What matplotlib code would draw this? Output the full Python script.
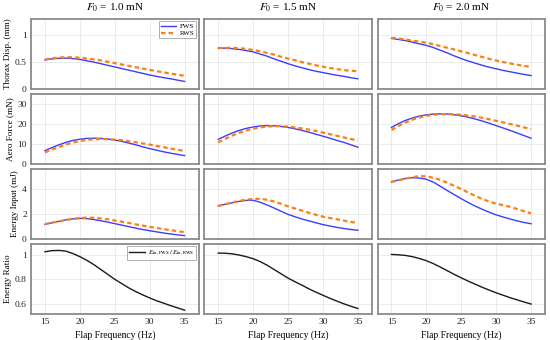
import matplotlib
matplotlib.use("Agg")
import matplotlib.pyplot as plt
from matplotlib.ticker import FuncFormatter

plt.rcParams['font.family'] = ['Liberation Serif', 'DejaVu Serif']
plt.rcParams['mathtext.fontset'] = 'stix'

freq = list(range(15, 36))
forces = ["1.0", "1.5", "2.0"]

# Thorax displacement (mm)
disp_fws = [
    [.54, .56, .57, .575, .565, .55, .525, .50, .47, .44, .41, .38, .35, .32, .29, .26, .235, .21, .19, .165, .14],
    [.76, .76, .75, .735, .715, .69, .65, .61, .56, .515, .47, .43, .395, .36, .33, .305, .28, .255, .235, .21, .19],
    [.94, .92, .90, .87, .84, .81, .77, .72, .67, .615, .565, .52, .48, .44, .405, .375, .345, .32, .295, .27, .25],
]
disp_rws = [
    [.55, .57, .585, .59, .59, .58, .565, .55, .53, .505, .48, .455, .43, .405, .38, .355, .33, .31, .285, .265, .245],
    [.76, .765, .765, .76, .745, .725, .70, .67, .64, .60, .565, .535, .50, .47, .44, .415, .39, .37, .35, .34, .33],
    [.95, .94, .92, .90, .88, .86, .83, .80, .765, .735, .70, .665, .63, .595, .56, .53, .50, .475, .45, .43, .41],
]
# Aero force (mN)
force_fws = [
    [6.7, 8.2, 9.6, 10.8, 11.8, 12.4, 12.8, 12.9, 12.8, 12.5, 12.0, 11.3, 10.5, 9.6, 8.6, 7.7, 6.9, 6.1, 5.4, 4.8, 4.2],
    [12.3, 14.0, 15.5, 16.8, 17.8, 18.5, 19.0, 19.2, 19.1, 18.8, 18.3, 17.6, 16.8, 15.9, 14.9, 13.9, 12.9, 11.8, 10.8, 9.6, 8.4],
    [18.3, 20.2, 21.8, 23.0, 24.0, 24.6, 25.0, 25.1, 25.0, 24.6, 24.1, 23.4, 22.5, 21.5, 20.4, 19.2, 18.0, 16.8, 15.5, 14.2, 12.9],
]
force_rws = [
    [5.8, 7.2, 8.5, 9.7, 10.7, 11.5, 12.0, 12.4, 12.5, 12.4, 12.2, 11.9, 11.4, 10.9, 10.3, 9.7, 9.0, 8.4, 7.7, 7.1, 6.5],
    [10.8, 12.6, 14.2, 15.6, 16.7, 17.6, 18.3, 18.7, 18.9, 18.9, 18.7, 18.3, 17.8, 17.2, 16.5, 15.7, 14.9, 14.1, 13.3, 12.5, 11.7],
    [17.0, 19.0, 20.8, 22.2, 23.3, 24.1, 24.6, 24.9, 25.0, 24.9, 24.6, 24.2, 23.7, 23.1, 22.4, 21.6, 20.8, 20.0, 19.2, 18.3, 17.5],
]
# Energy input (mJ)
energy_fws = [
    [1.17, 1.30, 1.42, 1.53, 1.61, 1.65, 1.63, 1.56, 1.46, 1.35, 1.23, 1.11, 0.99, 0.87, 0.76, 0.66, 0.57, 0.48, 0.40, 0.33, 0.27],
    [2.65, 2.78, 2.90, 3.01, 3.09, 3.10, 2.95, 2.72, 2.48, 2.22, 1.97, 1.78, 1.60, 1.45, 1.30, 1.15, 1.04, 0.93, 0.84, 0.76, 0.70],
    [4.57, 4.72, 4.84, 4.90, 4.88, 4.78, 4.55, 4.22, 3.88, 3.55, 3.22, 2.92, 2.63, 2.38, 2.14, 1.93, 1.76, 1.60, 1.45, 1.32, 1.22],
]
energy_rws = [
    [1.20, 1.30, 1.41, 1.52, 1.61, 1.68, 1.71, 1.70, 1.65, 1.57, 1.48, 1.38, 1.28, 1.17, 1.07, 0.97, 0.88, 0.79, 0.71, 0.62, 0.55],
    [2.65, 2.78, 2.92, 3.05, 3.15, 3.20, 3.22, 3.14, 3.00, 2.82, 2.62, 2.44, 2.27, 2.10, 1.94, 1.79, 1.68, 1.58, 1.47, 1.37, 1.27],
    [4.57, 4.70, 4.83, 4.95, 5.03, 5.02, 4.90, 4.73, 4.50, 4.25, 4.00, 3.72, 3.45, 3.20, 3.00, 2.83, 2.70, 2.57, 2.40, 2.22, 2.05],
]
# Energy ratio
ratio = [
    [1.025, 1.034, 1.036, 1.03, 1.01, 0.985, 0.955, 0.92, 0.88, 0.84, 0.80, 0.765, 0.73, 0.70, 0.673, 0.648, 0.625, 0.605, 0.585, 0.567, 0.548],
    [1.014, 1.013, 1.008, 0.998, 0.985, 0.968, 0.945, 0.915, 0.88, 0.845, 0.81, 0.78, 0.752, 0.722, 0.695, 0.67, 0.645, 0.622, 0.60, 0.58, 0.562],
    [1.003, 1.0, 0.995, 0.985, 0.97, 0.952, 0.928, 0.90, 0.87, 0.84, 0.812, 0.785, 0.76, 0.735, 0.712, 0.69, 0.67, 0.65, 0.632, 0.615, 0.598],
]

ylabels = ["Thorax Disp. (mm)", "Aero Force (mN)", "Energy Input (mJ)", "Energy Ratio"]
ylims = [(0, 1.3), (0, 35), (0, 5.6), (0.517, 1.088)]
yticks = [[0, 0.5, 1], [0, 10, 20, 30], [0, 2, 4], [0.6, 0.8, 1.0]]
xticks = [15, 20, 25, 30, 35]

blue = '#3c3cff'
orange = '#ff7f0e'

fig, axes = plt.subplots(4, 3, figsize=(5.5, 3.4), dpi=100, sharex=True, sharey='row')
fig.subplots_adjust(left=0.0564, right=0.991, top=0.944, bottom=0.0765, wspace=0.034, hspace=0.072)

pairs = [(disp_fws, disp_rws), (force_fws, force_rws), (energy_fws, energy_rws)]
for c in range(3):
    for r in range(4):
        ax = axes[r, c]
        ax.grid(True, color='#e8e8e8', linewidth=0.6)
        ax.set_axisbelow(True)
        if r < 3:
            fws, rws = pairs[r]
            ax.plot(freq, fws[c], color=blue, lw=1.0, label='FWS', zorder=3)
            ax.plot(freq, rws[c], color=orange, lw=1.6, ls=(0, (2, 1.4)), label='RWS', zorder=3)
        else:
            ax.plot(freq, ratio[c], color='#1a1a1a', lw=1.0,
                    label=r'$E_{\rm in,FWS}\,/\,E_{\rm in,RWS}$', zorder=3)
        ax.set_ylim(*ylims[r])
        ax.set_yticks(yticks[r])
        ax.set_xlim(13, 37)
        ax.set_xticks(xticks)
        ax.yaxis.set_major_formatter(FuncFormatter(lambda v, p: ('%g' % v)))
        ax.tick_params(length=0, labelsize=6.8, pad=3, colors='#222222')
        for s in ax.spines.values():
            s.set_color('#8a8a8a')
            s.set_linewidth(1.3)
        if c == 0:
            ax.set_ylabel(ylabels[r], fontsize=6.6, labelpad=2.5)
        if r == 3:
            ax.set_xlabel('Flap Frequency (Hz)', fontsize=6.9, labelpad=3)
    axes[0, c].set_title(r'$F_0$ = ' + forces[c] + ' mN', fontsize=8, pad=6)

leg1 = axes[0, 0].legend(loc='upper right', fontsize=5, frameon=True, fancybox=False,
                         edgecolor='#8a8a8a', handlelength=2.2, borderpad=0.3,
                         labelspacing=0.2, borderaxespad=0.3, handletextpad=0.5)
leg1.get_frame().set_linewidth(0.6)
leg2 = axes[3, 0].legend(loc='upper right', fontsize=5, frameon=True, fancybox=False,
                         edgecolor='#8a8a8a', handlelength=2.2, borderpad=0.3,
                         borderaxespad=0.3, handletextpad=0.5)
leg2.get_frame().set_linewidth(0.6)

fig.savefig('out.png', dpi=100)
